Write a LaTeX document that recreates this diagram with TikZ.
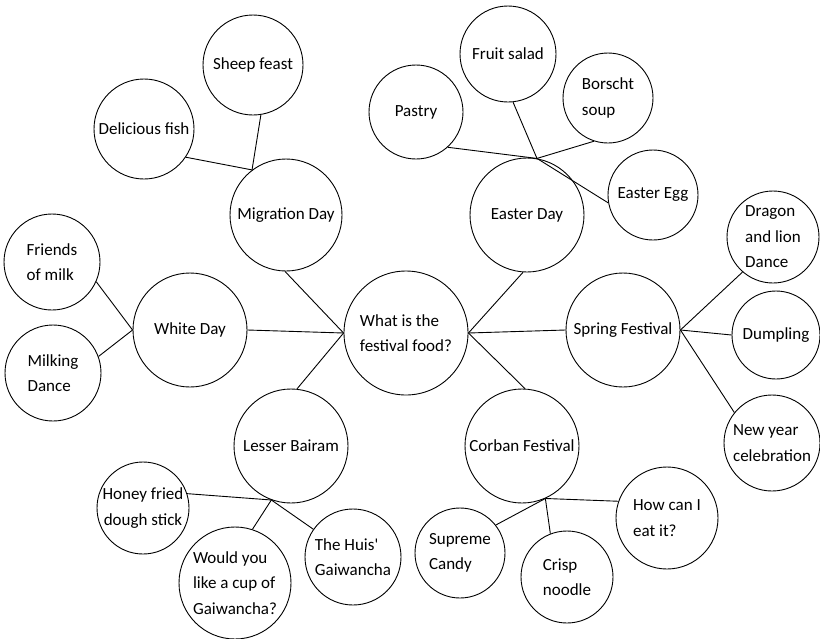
\documentclass[tikz,border=0pt]{standalone}
\usepackage{fontspec}
\setmainfont{Carlito}

\begin{document}
\begin{tikzpicture}[x=1pt, y=-1pt, line width=0.9pt,
    bub/.style={draw, circle, inner sep=0pt, align=center,
        font=\fontsize{17}{25.5}\selectfont},
    bubl/.style={bub, align=left}]
    \useasboundingbox (0,0) rectangle (820,638);
    % centre and festivals
    \node[bubl, minimum size=124pt] (cen) at (406,333) {What is the\\festival food?};
    \node[bub, minimum size=112pt] (mig) at (286,215) {Migration Day};
    \node[bub, minimum size=114pt] (white) at (190,330) {White Day};
    \node[bub, minimum size=114pt] (lesser) at (291,446) {Lesser Bairam};
    \node[bub, minimum size=114pt] (easter) at (527,215) {Easter Day};
    \node[bub, minimum size=114pt] (spring) at (623,330) {Spring Festival};
    \node[bub, minimum size=114pt] (corban) at (522,446) {Corban Festival};
    % foods
    \node[bub, minimum size=100pt] (sheep) at (253,65) {Sheep feast};
    \node[bub, minimum size=100pt] (fish) at (144,129) {Delicious fish};
    \node[bubl, minimum size=96pt] (milkfr) at (52,262) {Friends\\of milk};
    \node[bubl, minimum size=96pt] (milking) at (53,373) {Milking\\Dance};
    \node[bub, minimum size=92pt] (honey) at (143,508) {Honey fried\\dough stick};
    \node[bubl, minimum size=112pt] (would) at (235,583) {Would you\\like a cup of\\Gaiwancha?};
    \node[bubl, minimum size=96pt] (huis) at (353,557) {The Huis\textquotesingle\\Gaiwancha};
    \node[bub, minimum size=94pt] (pastry) at (416,112) {Pastry};
    \node[bub, minimum size=96pt] (fruit) at (508,54) {Fruit salad};
    \node[bubl, minimum size=90pt] (borscht) at (608,98) {Borscht\\soup};
    \node[bub, minimum size=90pt] (egg) at (653,195) {Easter Egg};
    \node[bubl, minimum size=92pt] (dragon) at (773,237) {Dragon\\and lion\\Dance};
    \node[bub, minimum size=88pt] (dumpling) at (776,335) {Dumpling};
    \node[bubl, minimum size=96pt] (newyear) at (772,443) {New year\\celebration};
    \node[bubl, minimum size=90pt] (supreme) at (460,553) {Supreme\\Candy};
    \node[bubl, minimum size=92pt] (crisp) at (567,577) {Crisp\\noodle};
    \node[bubl, minimum size=102pt] (howeat) at (667,518) {How can I\\eat it?};

    \path
    (mig.127) edge (sheep.-81) edge (fish.-34)
    (mig.-91) edge (cen.west)
    (white.west) edge (milkfr.-24) edge (milking.20)
    (white.east) edge (cen.west)
    (lesser.84) edge (cen.west)
    (lesser.-110) edge (honey.18) edge (would.72) edge (huis.145)
    (easter.80) edge (pastry.-48) edge (fruit.-84) edge (borscht.-108) edge (egg.190)
    (easter.-94) edge (cen.east)
    (spring.west) edge (cen.east)
    (spring.east) edge (dragon.229) edge (dumpling.west) edge (newyear.141)
    (corban.87) edge (cen.east)
    (corban.-66) edge (supreme.38) edge (crisp.111) edge (howeat.161);
\end{tikzpicture}
\end{document}
